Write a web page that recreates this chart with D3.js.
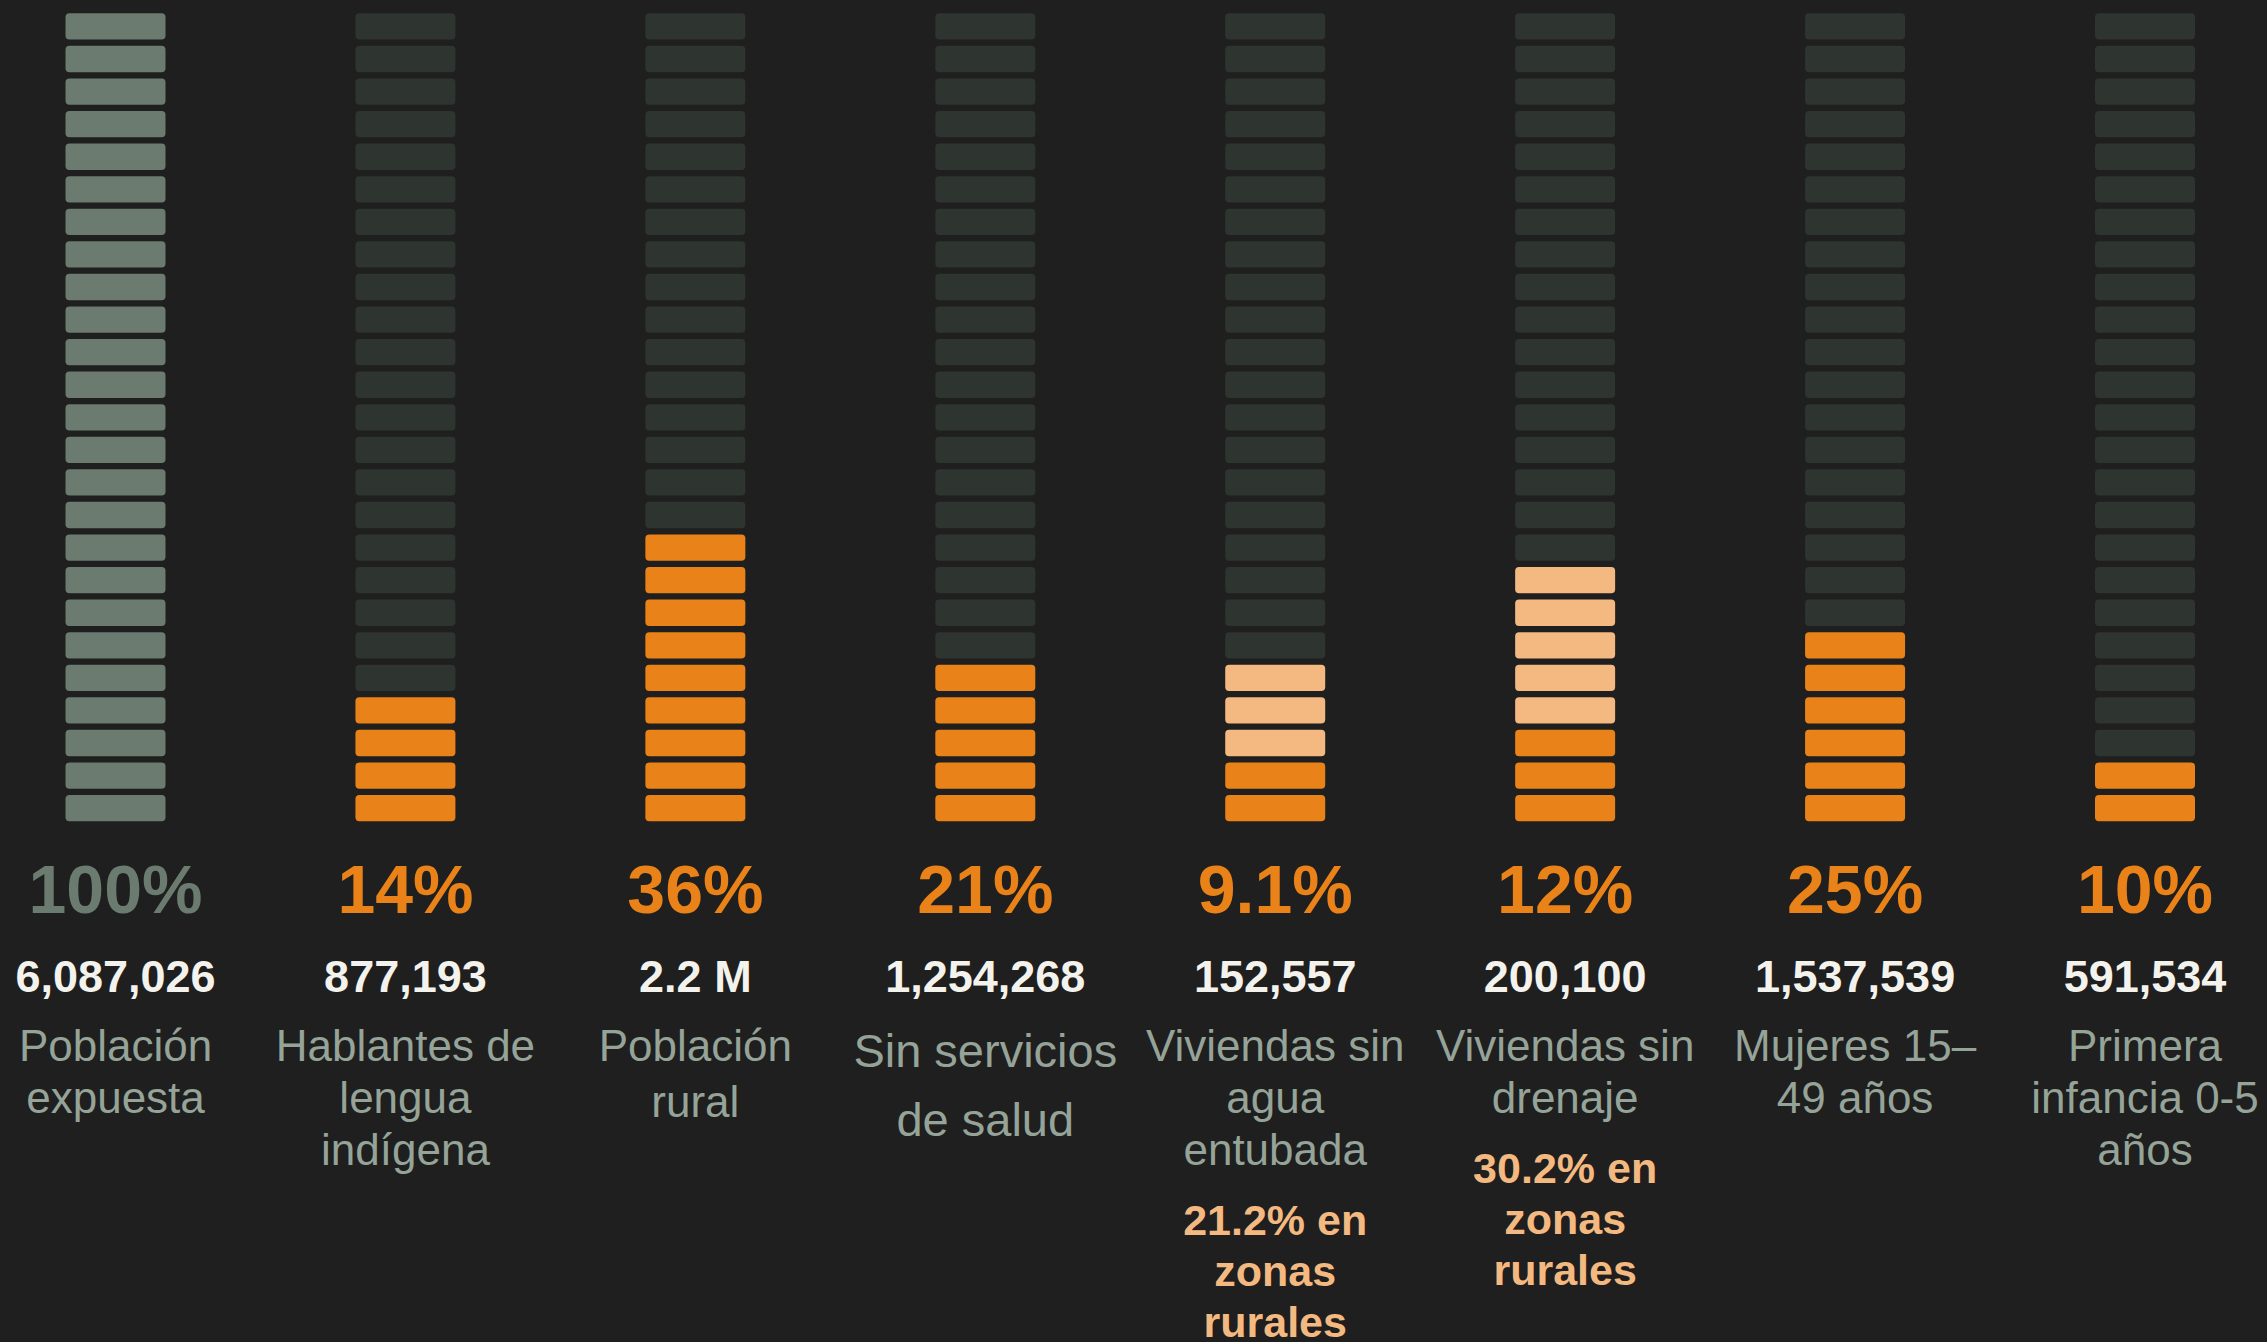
<!DOCTYPE html>
<html>
<head>
<meta charset="utf-8">
<script src="https://cdn.jsdelivr.net/npm/d3@7"></script>
<style>
  html, body { margin: 0; padding: 0; background: #1e1f1e; }
  text { font-family: "Liberation Sans", Arial, sans-serif; }
</style>
</head>
<body>
<div id="chart"></div>
<script>
// Data
const categories = ["expuesta", "indigena", "rural", "salud", "agua", "drenaje", "mujeres", "infancia"];
const pctValues = [100, 14.4, 36.1, 20.6, 9.1, 12.0, 25.3, 9.7];
const pctLabels = ["100%", "14%", "36%", "21%", "9.1%", "12%", "25%", "10%"];
const countLabels = ["6,087,026", "877,193", "2.2 M", "1,254,268", "152,557", "200,100", "1,537,539", "591,534"];
const nameLines = [
  ["Población", "expuesta"],
  ["Hablantes de", "lengua", "indígena"],
  ["Población", "rural"],
  ["Sin servicios", "de salud"],
  ["Viviendas sin", "agua", "entubada"],
  ["Viviendas sin", "drenaje"],
  ["Mujeres 15–", "49 años"],
  ["Primera", "infancia 0-5", "años"]
];
const ruralValues = [null, null, null, null, 21.2, 30.2, null, null];
const ruralLines = [null, null, null, null,
  ["21.2% en", "zonas", "rurales"],
  ["30.2% en", "zonas", "rurales"],
  null, null];

const nSeg = 25;

//Width and height
const width = 2267, height = 1342;

// label layout per column: font size, line height, first baseline
const labelStyle = categories.map(function(d, i) {
  if (i === 3) return { fs: 47, lh: 69, y: 1067 };
  if (i === 2) return { fs: 44, lh: 56, y: 1061 };
  return { fs: 44, lh: 52, y: 1061 };
});

const svg = d3.select("#chart")
  .append("svg")
   .attr("width", width)
   .attr("height", height)
   .style("display", "block")
   .style("background", "#1e1f1e");

//Scales
const x = d3.scalePoint()
  .domain(categories)
  .range([115.5, 2145]);

const y = d3.scaleBand()
  .domain(d3.range(nSeg - 1, -1, -1))
  .range([13.3, 821.3])
  .paddingInner(0.1925)
  .paddingOuter(0);

const segWidth = 100;

const cols = svg.selectAll("g.col")
  .data(categories)
  .join("g")
   .attr("class", "col")
   .attr("transform", function(d) { return "translate(" + x(d) + ",0)"; });

// segments
cols.each(function(d, i) {
  const filled = Math.round(pctValues[i] / 100 * nSeg);
  const ruralFilled = ruralValues[i] == null ? 0 : Math.round(ruralValues[i] / 100 * nSeg);
  d3.select(this).selectAll("rect.seg")
    .data(d3.range(nSeg))
    .join("rect")
     .attr("class", "seg")
     .attr("x", -segWidth / 2)
     .attr("y", function(k) { return y(k); })
     .attr("width", segWidth)
     .attr("height", y.bandwidth())
     .attr("rx", 4)
     .attr("fill", function(k) {
       if (i === 0) return "#6b7b6f";
       if (k < filled) return "#e98219";
       if (k < ruralFilled) return "#f3b981";
       return "#2e342f";
     });
});

// percentage
cols.append("text")
  .attr("y", 913)
  .attr("text-anchor", "middle")
  .style("font-weight", "bold")
  .style("font-size", "68px")
  .attr("fill", function(d, i) { return i === 0 ? "#6b7b6f" : "#e98219"; })
  .text(function(d, i) { return pctLabels[i]; });

// count
cols.append("text")
  .attr("y", 992)
  .attr("text-anchor", "middle")
  .style("font-weight", "bold")
  .style("font-size", "45px")
  .attr("fill", "#f4f2ec")
  .text(function(d, i) { return countLabels[i]; });

// name
cols.each(function(d, i) {
  const st = labelStyle[i];
  d3.select(this).selectAll("text.name")
    .data(nameLines[i])
    .join("text")
     .attr("class", "name")
     .attr("y", function(t, j) { return st.y + j * st.lh; })
     .attr("text-anchor", "middle")
     .style("font-size", st.fs + "px")
     .attr("fill", "#95a398")
     .text(function(t) { return t; });

  if (ruralLines[i]) {
    const y0 = st.y + (nameLines[i].length - 1) * st.lh + 70;
    d3.select(this).selectAll("text.rural")
      .data(ruralLines[i])
      .join("text")
       .attr("class", "rural")
       .attr("y", function(t, j) { return y0 + j * 51; })
       .attr("text-anchor", "middle")
       .style("font-weight", "bold")
       .style("font-size", "43px")
       .attr("fill", "#f3b981")
       .text(function(t) { return t; });
  }
});
</script>
</body>
</html>
